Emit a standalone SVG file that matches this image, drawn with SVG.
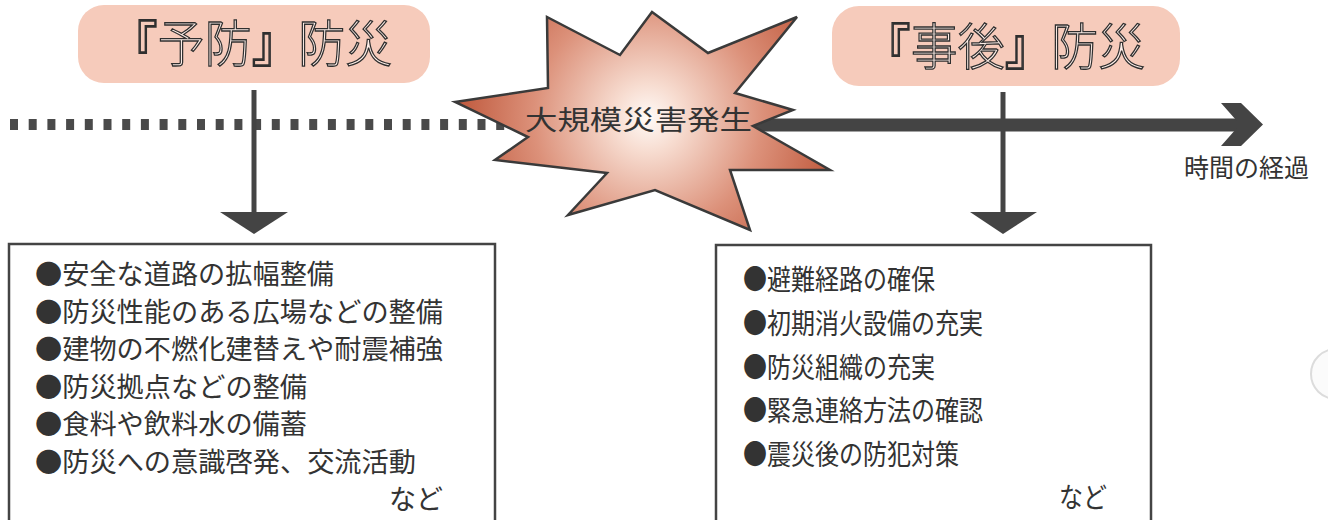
<svg xmlns="http://www.w3.org/2000/svg" width="1328" height="520" viewBox="0 0 1328 520">
<defs>
<radialGradient id="burst" gradientUnits="userSpaceOnUse" cx="648" cy="118" r="190">
<stop offset="0" stop-color="#fffaf7"/>
<stop offset="0.18" stop-color="#f7dcd0"/>
<stop offset="0.6" stop-color="#dc917a"/>
<stop offset="1" stop-color="#c05a3e"/>
</radialGradient>
<style>
.pill{fill:#f6cbbb}
.title{font-family:"Noto Sans CJK JP","Noto Sans CJK SC",sans-serif;font-size:50px;font-weight:300;fill:#fdeee8;stroke:#2f2f2f;stroke-width:1.3}
.body{font-family:"Noto Sans CJK JP","Noto Sans CJK SC",sans-serif;font-size:27px;fill:#333}
.b2{font-size:28px}
.small{font-family:"Noto Sans CJK JP","Noto Sans CJK SC",sans-serif;font-size:25px;fill:#333}
.box{fill:#fff;stroke:#444;stroke-width:2.5}
.vline{stroke:#444;stroke-width:5;fill:none}
.head{fill:#444}
</style>
</defs>
<rect width="1328" height="520" fill="#fff"/>
<circle cx="1336" cy="374" r="25" fill="#fbfbfb" stroke="#dcdcdc" stroke-width="2"/>

<g id="connectors">
<line x1="10" y1="124.5" x2="506" y2="124.5" stroke="#4a4a4a" stroke-width="11" stroke-dasharray="8 10.7"/>
<line x1="750" y1="125" x2="1242" y2="125" stroke="#444" stroke-width="13"/>
<polygon class="head" points="1221,103 1241,103 1263,124.5 1241,146 1221,146 1240,124.5"/>
<line class="vline" x1="254" y1="90" x2="254" y2="214"/>
<polygon class="head" points="220,212 288,212 254,234"/>
<line class="vline" x1="1003" y1="92" x2="1003" y2="214"/>
<polygon class="head" points="970,212 1037,212 1003,234"/>
</g>

<g id="yobou">
<rect class="pill" x="78" y="5" width="352" height="78" rx="26"/>
<text class="title" x="111" y="62" textLength="281" lengthAdjust="spacingAndGlyphs">『予防』防災</text>
</g>

<g id="jigo">
<rect class="pill" x="832" y="6" width="348" height="80" rx="27"/>
<text class="title" x="864" y="65" textLength="281" lengthAdjust="spacingAndGlyphs">『事後』防災</text>
</g>

<g id="disaster">
<polygon points="455,102 548,88 547,17 620,55 652,12 708,53 797,17 735,93 793,110 753,126 830,170 730,170 750,230 655,190 568,215 607,173 495,160 528,137" fill="url(#burst)" stroke="#3a3a3a" stroke-width="2.5" stroke-linejoin="miter"/>
<text class="body" x="525" y="130" font-size="33" textLength="227" lengthAdjust="spacingAndGlyphs">大規模災害発生</text>
</g>

<g id="time">
<text class="small" x="1184" y="177">時間の経過</text>
</g>

<g id="box-yobou">
<rect class="box" x="9" y="244" width="486" height="290"/>
<text class="body" x="35" y="284" textLength="299" lengthAdjust="spacingAndGlyphs">●安全な道路の拡幅整備</text>
<text class="body" x="35" y="321.5" textLength="408" lengthAdjust="spacingAndGlyphs">●防災性能のある広場などの整備</text>
<text class="body" x="35" y="359" textLength="408" lengthAdjust="spacingAndGlyphs">●建物の不燃化建替えや耐震補強</text>
<text class="body" x="35" y="396.5" textLength="272" lengthAdjust="spacingAndGlyphs">●防災拠点などの整備</text>
<text class="body" x="35" y="434" textLength="272" lengthAdjust="spacingAndGlyphs">●食料や飲料水の備蓄</text>
<text class="body" x="35" y="471.5" textLength="381" lengthAdjust="spacingAndGlyphs">●防災への意識啓発、交流活動</text>
<text class="body" x="389" y="509" textLength="54" lengthAdjust="spacingAndGlyphs">など</text>
</g>

<g id="box-jigo">
<rect class="box" x="716" y="245" width="435" height="290"/>
<text class="body b2" x="743" y="290" textLength="192" lengthAdjust="spacingAndGlyphs">●避難経路の確保</text>
<text class="body b2" x="743" y="334" textLength="240" lengthAdjust="spacingAndGlyphs">●初期消火設備の充実</text>
<text class="body b2" x="743" y="378" textLength="192" lengthAdjust="spacingAndGlyphs">●防災組織の充実</text>
<text class="body b2" x="743" y="421" textLength="240" lengthAdjust="spacingAndGlyphs">●緊急連絡方法の確認</text>
<text class="body b2" x="743" y="465" textLength="216" lengthAdjust="spacingAndGlyphs">●震災後の防犯対策</text>
<text class="body b2" x="1059" y="508" textLength="48" lengthAdjust="spacingAndGlyphs">など</text>
</g>
</svg>
